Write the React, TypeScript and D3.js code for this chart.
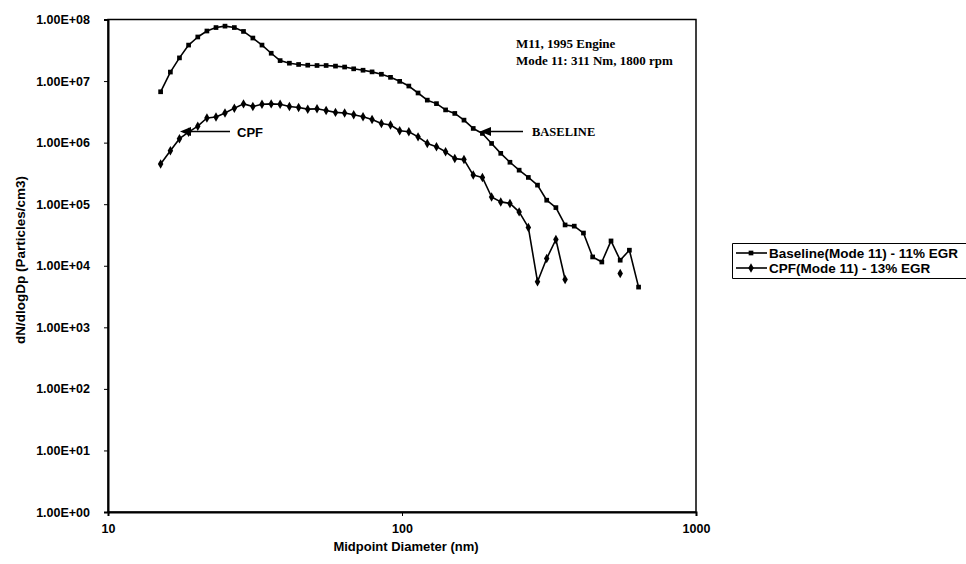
import React, { useEffect, useRef } from 'react';
import * as d3 from 'd3';

// Midpoint mobility diameters (nm), every second SMPS channel
const diameters = [
  15.1, 16.3, 17.5, 18.8, 20.2, 21.7, 23.3, 25.0, 26.9, 28.9,
  31.1, 33.4, 35.9, 38.5, 41.4, 44.5, 47.8, 51.4, 55.2, 59.4,
  63.8, 68.5, 73.7, 79.1, 85.1, 91.4, 98.2, 105.5, 113.4, 121.9,
  131.0, 140.7, 151.2, 162.5, 174.7, 187.7, 201.7, 216.7, 232.9, 250.3,
  269.0, 289.0, 310.6, 333.8, 358.7, 385.4, 414.2, 445.1, 478.3, 514.0,
  552.3, 593.5, 637.8,
];

// dN/dlogDp (particles/cm3), baseline run, 11% EGR
const baseline: (number | null)[] = [
  6.7e6, 1.40e7, 2.38e7, 3.84e7, 5.2e7, 6.5e7, 7.4e7, 7.8e7, 7.4e7, 6.4e7,
  5.0e7, 3.84e7, 2.83e7, 2.15e7, 1.95e7, 1.86e7, 1.81e7, 1.79e7, 1.79e7, 1.75e7,
  1.69e7, 1.58e7, 1.50e7, 1.41e7, 1.29e7, 1.15e7, 9.9e6, 8.3e6, 6.4e6, 4.9e6,
  4.3e6, 3.4e6, 2.98e6, 2.32e6, 1.70e6, 1.41e6, 9.7e5, 6.7e5, 4.8e5, 3.57e5,
  2.72e5, 2.04e5, 1.16e5, 8.8e4, 4.6e4, 4.4e4, 3.4e4, 1.39e4, 1.15e4, 2.53e4,
  1.23e4, 1.79e4, 4.5e3,
];

// dN/dlogDp (particles/cm3), CPF run, 13% EGR (null = no count)
const cpf: (number | null)[] = [
  4.5e5, 7.4e5, 1.16e6, 1.48e6, 1.85e6, 2.51e6, 2.61e6, 3.02e6, 3.63e6, 4.26e6,
  3.86e6, 4.21e6, 4.26e6, 4.21e6, 3.86e6, 3.72e6, 3.5e6, 3.54e6, 3.33e6, 3.1e6,
  3.02e6, 2.84e6, 2.63e6, 2.38e6, 2.05e6, 1.93e6, 1.56e6, 1.5e6, 1.24e6, 9.7e5,
  8.6e5, 7.1e5, 5.5e5, 5.3e5, 2.97e5, 2.72e5, 1.31e5, 1.09e5, 1.03e5, 7.5e4,
  4.2e4, 5.5e3, 1.31e4, 2.67e4, 5.97e3, null, null, null, null, null,
  7.5e3, null, null,
];

const yTickValues = [1, 10, 100, 1e3, 1e4, 1e5, 1e6, 1e7, 1e8];
const yTickLabels = [
  '1.00E+00', '1.00E+01', '1.00E+02', '1.00E+03', '1.00E+04',
  '1.00E+05', '1.00E+06', '1.00E+07', '1.00E+08',
];
const xTickValues = [10, 100, 1000];
const xTickLabels = ['10', '100', '1000'];
const seriesNames = ['Baseline(Mode 11) - 11% EGR', 'CPF(Mode 11) - 13% EGR'];

const W = 966;
const H = 564;
const SANS = "'Liberation Sans', Arial, sans-serif";
const SERIF = "'Liberation Serif', 'Times New Roman', serif";

export default function App() {
  const ref = useRef<SVGSVGElement>(null);

  useEffect(() => {
    const svg = d3.select(ref.current);
    svg.selectAll('*').remove();

    const left = 108, right = 696, top = 19.5, bottom = 512;
    const x = d3.scaleLog().domain([10, 1000]).range([left, right]);
    const y = d3.scaleLog().domain([1, 1e8]).range([bottom, top]);

    svg.append('rect').attr('width', W).attr('height', H).attr('fill', '#fff');

    // plot frame
    svg.append('rect')
      .attr('x', left).attr('y', top)
      .attr('width', right - left).attr('height', bottom - top)
      .attr('fill', 'none').attr('stroke', '#000').attr('stroke-width', 1.5);

    // y axis
    const yAxis = svg.append('g')
      .attr('transform', `translate(${left},0)`)
      .call(
        d3.axisLeft(y)
          .tickValues(yTickValues)
          .tickFormat((_d, i) => yTickLabels[i])
          .tickSize(4)
          .tickPadding(14)
      );
    yAxis.select('.domain').attr('stroke-width', 2);
    yAxis.selectAll('text')
      .attr('font-family', SANS).attr('font-weight', 'bold').attr('font-size', 12.5)
      .attr('fill', '#000');

    // x axis
    const xAxis = svg.append('g')
      .attr('transform', `translate(0,${bottom})`)
      .call(
        d3.axisBottom(x)
          .tickValues(xTickValues)
          .tickFormat((_d, i) => xTickLabels[i])
          .tickSize(4)
          .tickPadding(8)
      );
    xAxis.select('.domain').attr('stroke-width', 2);
    xAxis.selectAll('text')
      .attr('font-family', SANS).attr('font-weight', 'bold').attr('font-size', 12.5)
      .attr('fill', '#000');

    // axis titles
    svg.append('text')
      .attr('x', 406).attr('y', 551)
      .attr('text-anchor', 'middle')
      .attr('font-family', SANS).attr('font-weight', 'bold').attr('font-size', 13)
      .text('Midpoint Diameter (nm)');
    svg.append('text')
      .attr('transform', `translate(25,260) rotate(-90)`)
      .attr('text-anchor', 'middle')
      .attr('font-family', SANS).attr('font-weight', 'bold').attr('font-size', 13.5)
      .text('dN/dlogDp (Particles/cm3)');

    type Pt = { d: number; v: number | null };
    const toPts = (vals: (number | null)[]): Pt[] => diameters.map((d, i) => ({ d, v: vals[i] }));

    const line = d3.line<Pt>()
      .defined((p) => p.v != null && p.v > 0)
      .x((p) => x(p.d))
      .y((p) => y(p.v as number));

    const series = [
      { name: seriesNames[0], pts: toPts(baseline), symbol: d3.symbolSquare, size: 22 },
      { name: seriesNames[1], pts: toPts(cpf), symbol: d3.symbolDiamond, size: 26 },
    ];

    series.forEach((s) => {
      svg.append('path')
        .attr('d', line(s.pts) || '')
        .attr('fill', 'none').attr('stroke', '#000').attr('stroke-width', 1.6)
        .attr('stroke-linejoin', 'round');
      svg.append('g').selectAll('path')
        .data(s.pts.filter((p) => p.v != null && p.v > 0))
        .join('path')
        .attr('transform', (p) => `translate(${x(p.d)},${y(p.v as number)})`)
        .attr('d', d3.symbol().type(s.symbol).size(s.size)() || '')
        .attr('fill', '#000');
    });

    // callout arrows
    const arrow = (tipX: number, tipY: number, tailX: number) => {
      svg.append('line')
        .attr('x1', tipX + 6).attr('y1', tipY).attr('x2', tailX).attr('y2', tipY)
        .attr('stroke', '#000').attr('stroke-width', 1.5);
      svg.append('path')
        .attr('d', `M${tipX},${tipY} L${tipX + 11},${tipY - 4.5} L${tipX + 11},${tipY + 4.5} Z`)
        .attr('fill', '#000');
    };
    arrow(180, 131.5, 230);
    svg.append('text')
      .attr('x', 237).attr('y', 137)
      .attr('font-family', SANS).attr('font-weight', 'bold').attr('font-size', 13)
      .text('CPF');

    arrow(480, 131.5, 523);
    svg.append('text')
      .attr('x', 532).attr('y', 136)
      .attr('font-family', SERIF).attr('font-weight', 'bold').attr('font-size', 12.5)
      .text('BASELINE');

    // engine / operating point note
    svg.append('text')
      .attr('x', 516).attr('y', 48)
      .attr('font-family', SERIF).attr('font-weight', 'bold').attr('font-size', 13)
      .text('M11, 1995 Engine');
    svg.append('text')
      .attr('x', 516).attr('y', 65)
      .attr('font-family', SERIF).attr('font-weight', 'bold').attr('font-size', 13)
      .text('Mode 11: 311 Nm, 1800 rpm');

    // legend
    const lg = svg.append('g');
    lg.append('path')
      .attr('d', 'M972,243.5 H732.5 V278.5 H972')
      .attr('fill', 'none').attr('stroke', '#000').attr('stroke-width', 1);
    series.forEach((s, i) => {
      const ly = 253 + i * 15;
      lg.append('line')
        .attr('x1', 736).attr('x2', 767).attr('y1', ly).attr('y2', ly)
        .attr('stroke', '#000').attr('stroke-width', 1.6);
      lg.append('path')
        .attr('transform', `translate(751,${ly})`)
        .attr('d', d3.symbol().type(s.symbol).size(s.size)() || '')
        .attr('fill', '#000');
      lg.append('text')
        .attr('x', 769).attr('y', ly + 5)
        .attr('font-family', SANS).attr('font-weight', 'bold').attr('font-size', 13.5)
        .text(s.name);
    });
  }, []);

  return (
    <svg
      ref={ref}
      width={W}
      height={H}
      style={{ position: 'absolute', left: 0, top: 0, display: 'block' }}
    />
  );
}
